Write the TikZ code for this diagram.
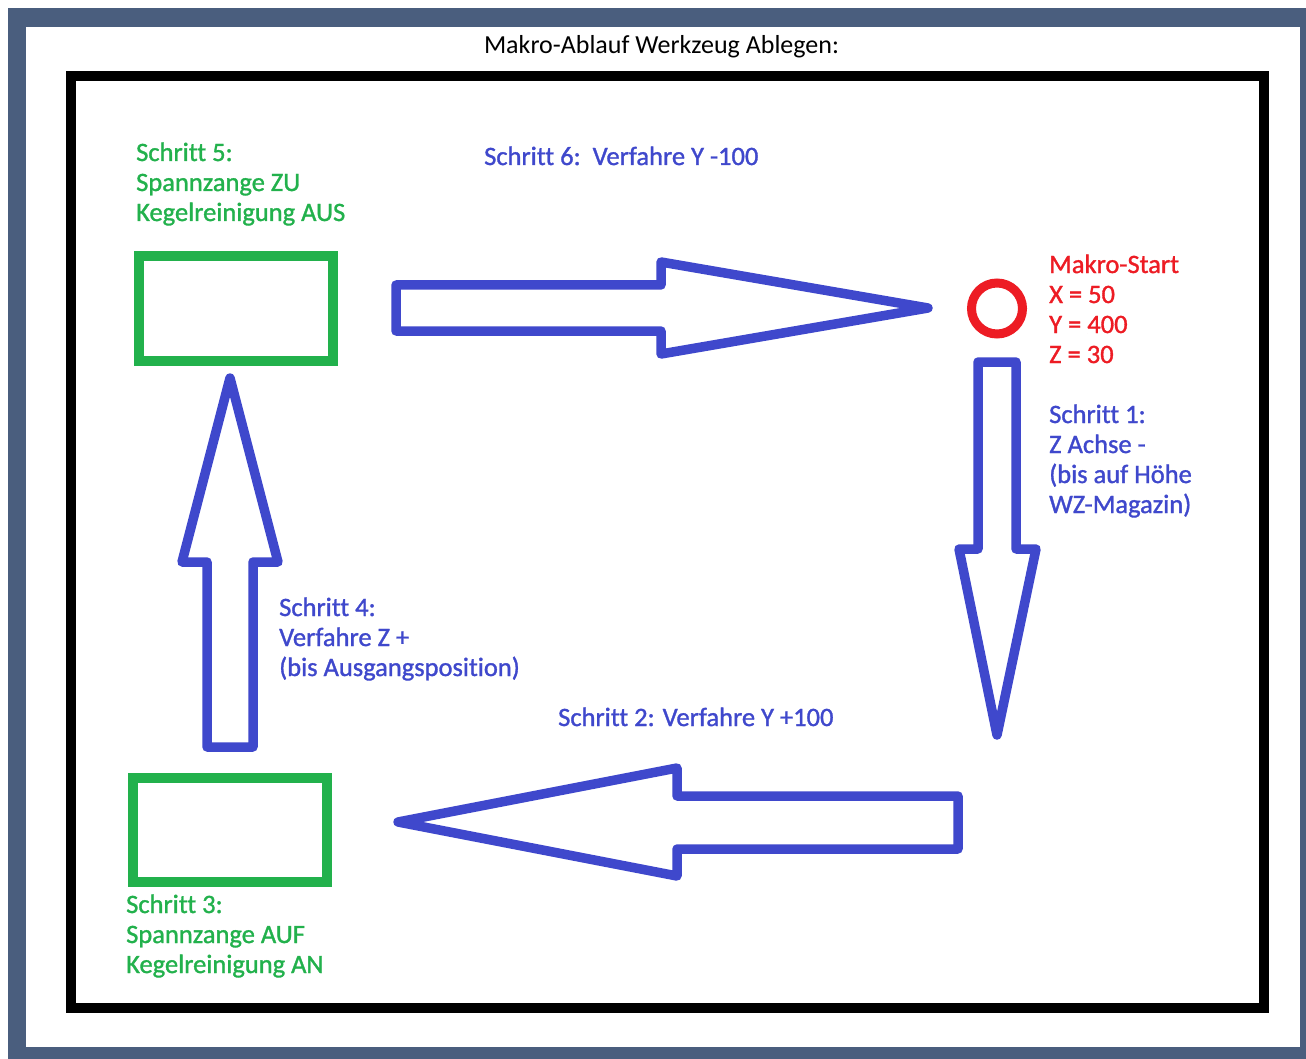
\documentclass[tikz,border=0pt]{standalone}
\usepackage{fontspec}
\setmainfont{Carlito}[Ligatures=NoCommon]
\newfontfamily\labelfont{Carlito}[Ligatures=NoCommon, FakeBold=1.2]
\definecolor{framegray}{HTML}{4A5E7E}
\definecolor{paintgreen}{HTML}{22B14C}
\definecolor{paintblue}{HTML}{3F48CC}
\definecolor{paintred}{HTML}{ED1C24}
\tikzset{
  steptext/.style={anchor=base west, align=left, inner sep=0pt,
    font=\labelfont\fontsize{26.5}{30}\selectfont},
  stepbox/.style={draw=paintgreen, line width=10pt, inner sep=0pt,
    minimum width=194pt, minimum height=104pt},
  blockarrow/.style={draw=paintblue, line width=9.5pt, line join=round},
}
\begin{document}
\begin{tikzpicture}[x=1pt,y=-1pt]
\useasboundingbox (0,0) rectangle (1306,1059);
% frame
\fill[white] (0,0) rectangle (1306,1059);
\fill[framegray] (8,8) rectangle (1306,1059);
\fill[white] (26,27) rectangle (1300,1047);
\draw[line width=10pt] (71,76) rectangle (1263.5,1008);
\node[anchor=base, inner sep=0pt, font=\fontsize{26}{30}\selectfont] (title) at (661.5,54) {Makro-Ablauf Werkzeug Ablegen:};

% stations
\node[stepbox] (box5) at (236,308.5) {};
\node[stepbox] (box3) at (230,830) {};
\node[circle, draw=paintred, line width=9pt, minimum size=51pt, inner sep=0pt] (start) at (997,308.5) {};

% labels (base = last line)
\node[steptext, text=paintgreen] (s5) at (136,221) {Schritt 5:\\Spannzange ZU\\Kegelreinigung AUS};
\node[steptext, text=paintblue] (s6) at (484,165) {Schritt 6:\ \ Verfahre Y -100};
\node[steptext, text=paintred] (startinfo) at (1049,363) {Makro-Start\\X = 50\\Y = 400\\Z = 30};
\node[steptext, text=paintblue] (s1) at (1049,513) {Schritt 1:\\Z Achse -\\(bis auf Höhe\\WZ-Magazin)};
\node[steptext, text=paintblue] (s4) at (279,676) {Schritt 4:\\Verfahre Z +\\(bis Ausgangsposition)};
\node[steptext, text=paintblue] (s2) at (558,726) {Schritt 2: Verfahre Y +100};
\node[steptext, text=paintgreen] (s3) at (126,973) {Schritt 3:\\Spannzange AUF\\Kegelreinigung AN};

% block arrows
\draw[blockarrow] (396,285) -- (661,285) -- (661,262) -- (928,308) -- (661,354) -- (661,331) -- (396,331) -- cycle;
\draw[blockarrow] (978,362) -- (1016,362) -- (1016,549) -- (1036,549) -- (997,735) -- (959,549) -- (978,549) -- cycle;
\draw[blockarrow] (958,796) -- (677,796) -- (677,768) -- (398,822) -- (677,876) -- (677,849) -- (958,849) -- cycle;
\draw[blockarrow] (207,747) -- (207,562) -- (182,562) -- (230,378) -- (278,562) -- (253,562) -- (253,747) -- cycle;
\end{tikzpicture}
\end{document}
